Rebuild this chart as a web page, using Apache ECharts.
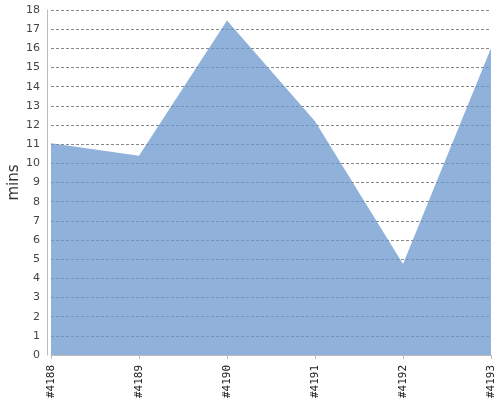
<!DOCTYPE html>
<html><head><meta charset="utf-8">
<script src="https://cdn.jsdelivr.net/npm/echarts@6/dist/echarts.min.js"></script>
<style>html,body{margin:0;padding:0;background:#fff}#c{width:500px;height:400px}</style>
</head><body><div id="c"></div>
<script>
const categories = ['#4188', '#4189', '#4190', '#4191', '#4192', '#4193'];
const minsValues = [11.05, 10.4, 17.45, 12.2, 4.75, 16.0];
const yTicks = [0, 18, 1]; // min, max, interval

const chart = echarts.init(document.getElementById('c'), null, {renderer: 'canvas'});
chart.setOption({
  animation: false,
  grid: {left: 51, right: 9, top: 10, bottom: 45, containLabel: false, outerBoundsMode: 'none'},
  xAxis: {
    type: 'category', data: categories, boundaryGap: false, offset: 4,
    axisLine: {lineStyle: {color: '#bbb', width: 1}},
    axisTick: {show: true, length: 4, lineStyle: {color: '#bbb'}},
    axisLabel: {rotate: 90, margin: 6, fontFamily: 'DejaVu Sans Mono', fontSize: 11, color: '#222', interval: 0, hideOverlap: false},
    splitLine: {show: false}
  },
  yAxis: {
    type: 'value', min: yTicks[0], max: yTicks[1], interval: yTicks[2], offset: 4,
    name: 'mins', nameLocation: 'middle', nameGap: 25, nameRotate: 90, nameMoveOverlap: false,
    nameTextStyle: {fontFamily: 'DejaVu Sans', fontSize: 15, color: '#333'},
    axisLine: {show: true, lineStyle: {color: '#bbb', width: 1}},
    axisTick: {show: false},
    axisLabel: {margin: 7, fontFamily: 'DejaVu Sans', fontSize: 11, color: '#444'},
    splitLine: {show: true, lineStyle: {color: '#888', width: 1, type: [3, 2]}}
  },
  series: [{
    type: 'line', data: minsValues, symbol: 'none',
    lineStyle: {width: 0},
    areaStyle: {color: 'rgb(106,151,206)', opacity: 0.75}
  }]
});
</script></body></html>
